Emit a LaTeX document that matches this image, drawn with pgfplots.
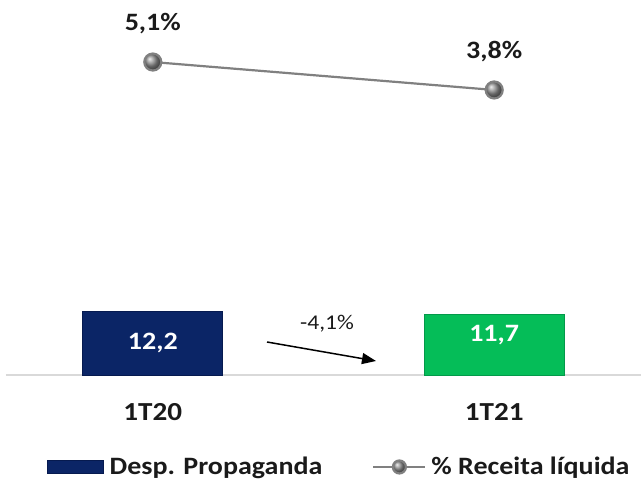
\documentclass[border=0pt]{standalone}
\usepackage{pgfplots}
\pgfplotsset{compat=1.18}
\usepackage{fontspec}
\setmainfont{Carlito}[FakeStretch=1.12]
\usetikzlibrary{arrows.meta}
\definecolor{navyb}{HTML}{0B2566}
\definecolor{navyd}{HTML}{061A4F}
\definecolor{greenb}{HTML}{05BD58}
\definecolor{greend}{HTML}{03994A}
\definecolor{linegray}{HTML}{808080}
\definecolor{basegray}{HTML}{D9D9D9}
\definecolor{txt}{HTML}{1A1A1A}
\begin{document}
\begin{tikzpicture}[x=1pt,y=1pt]
\path[use as bounding box] (0,0) rectangle (641,482);
\begin{axis}[
  at={(6pt,107pt)}, anchor=south west,
  scale only axis, width=635pt, height=365pt,
  xmin=-0.43, xmax=1.43, ymin=0, ymax=70.2,
  hide y axis,
  axis x line*=bottom,
  x axis line style={-, draw=basegray, line width=1.5pt},
  xtick={0,1}, xticklabels={\textbf{1T20},\textbf{1T21}},
  major tick length=0pt,
  xticklabel style={font=\bfseries\fontsize{26}{30}\selectfont, text=txt, anchor=center, yshift=-37pt},
  clip=false,
]
\addplot[ybar, bar width=140pt, bar shift=0pt, fill=navyb, draw=navyd, line width=0.8pt,
  nodes near coords, point meta=explicit symbolic,
  every node near coord/.style={anchor=center, yshift=-31pt, text=white, font=\bfseries\fontsize{25}{29}\selectfont}]
  coordinates {(0,12.2) [12,2]};
\addplot[ybar, bar width=140pt, bar shift=0pt, fill=greenb, draw=greend, line width=0.8pt,
  nodes near coords, point meta=explicit symbolic,
  every node near coord/.style={anchor=center, yshift=-21pt, text=white, font=\bfseries\fontsize{25}{29}\selectfont}]
  coordinates {(1,11.7) [11,7]};
\end{axis}
\draw[-{Triangle[length=14pt,width=11pt]}, line width=1.5pt, black] (267,140) -- (376,121);
\node[font=\fontsize{21}{25}\selectfont, text=txt] at (327,158) {-4,1\%};
\begin{axis}[
  at={(6pt,107pt)}, anchor=south west,
  scale only axis, width=635pt, height=365pt,
  xmin=-0.43, xmax=1.43, ymin=-9.46, ymax=7.52,
  axis lines=none, clip=false,
  legend columns=2,
  legend style={draw=none, fill=none, inner sep=0pt, at={(0.0646,-0.252)}, anchor=west,
    font=\bfseries\fontsize{25}{29}\selectfont, text=txt,
    nodes={inner sep=0pt},
    /tikz/every even column/.append style={column sep=50pt}},
  legend cell align=left,
]
\addlegendimage{legend image code/.code={\draw[fill=navyb,draw=navyd] (0pt,-6.5pt) rectangle (56pt,6.5pt); \path (62pt,0pt);}}
\addlegendentry{Desp. Propaganda}
\addplot[linegray, line width=2.2pt, mark=ball, mark size=8.5pt, ball color=linegray!90,
  nodes near coords, point meta=explicit symbolic,
  every node near coord/.style={anchor=center, yshift=38pt, text=txt, font=\bfseries\fontsize{25}{29}\selectfont},
  legend image code/.code={\draw[linegray,line width=2pt] (0pt,0pt) -- (52pt,0pt); \shade[ball color=linegray!90] (26pt,0pt) circle (6.5pt); \path (57pt,0pt);}]
  coordinates {(0,5.1) [5,1\%] (1,3.8) [3,8\%]};
\addlegendentry{\% Receita líquida}
\end{axis}
\end{tikzpicture}
\end{document}
